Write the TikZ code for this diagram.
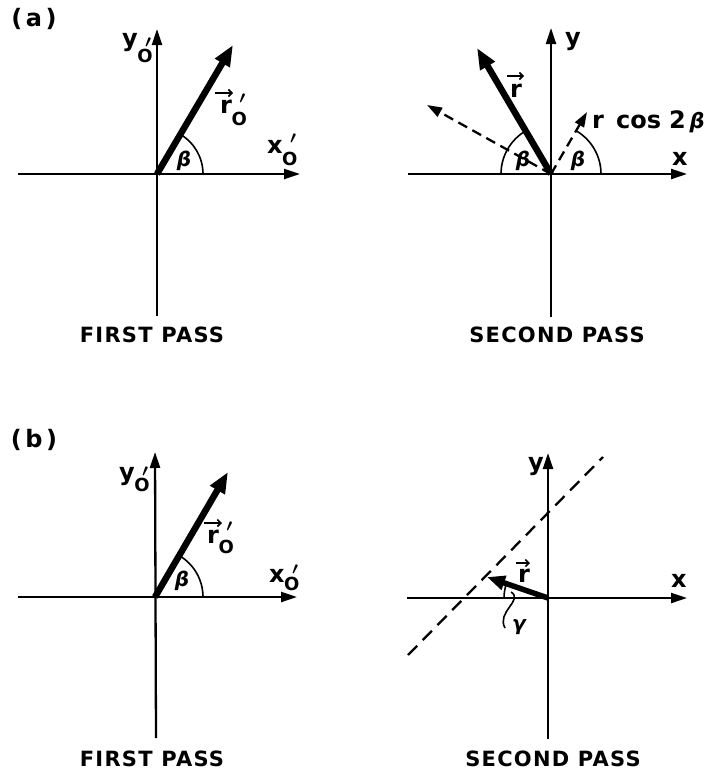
\documentclass[tikz,border=0pt]{standalone}
\usepackage{fontspec}
\setmainfont{DejaVu Sans}
\usetikzlibrary{arrows.meta}
\newcommand\osf{\fontsize{18}{20}\selectfont}
% letter, drop of the O, raise of the prime
\newcommand\po[3]{#1\kern-0.5pt\raisebox{-#2}{\osf O}\llap{\raisebox{#3}{\osf\boldmath$\prime$}\kern1.5pt}}
\newcommand\bet{{\itshape β}}
\begin{document}
\begin{tikzpicture}[x=1pt,y=1pt,
  axis/.style={line width=2.3pt,-{Triangle[length=16pt,width=10pt]}},
  vecline/.style={line width=6.5pt,-{Triangle[length=21pt,width=16pt]}},
  dvec/.style={line width=2.3pt,dash pattern=on 10pt off 6pt,-{Triangle[length=15pt,width=10pt]}},
  dline/.style={line width=2.3pt,dash pattern=on 13pt off 8pt},
  arcline/.style={line width=1.6pt},
  rarrow/.style={line width=1.6pt,-{Straight Barb[length=3.5pt,width=7pt]}},
  lab/.style={font=\fontsize{24}{27}\selectfont\bfseries,inner sep=0pt,anchor=base west},
  grk/.style={font=\fontsize{20}{24}\selectfont\bfseries,inner sep=0pt},
  paren/.style={font=\fontsize{24}{27}\selectfont\bfseries\addfontfeature{LetterSpace=15},inner sep=0pt},
  passlbl/.style={font=\fontsize{21}{24}\selectfont\bfseries\addfontfeature{LetterSpace=6},inner sep=0pt}]
\useasboundingbox (0,-771) rectangle (712,0);
% ---------------- (a) first pass
\coordinate (A) at (157,-174);
\coordinate (Al) at (18,-174); \coordinate (Ar) at (300,-174);
\coordinate (At) at (157,-29); \coordinate (Ab) at (157,-316);
\coordinate (Atip) at (233,-45);
\draw[axis] (Al) -- (Ar);
\draw[axis] (Ab) -- (At);
\draw[vecline] (A) -- (Atip);
\draw[arcline] (A) ++(46,0) arc[start angle=0,end angle=59.5,radius=46];
\node[paren] (la) at (34,-19) {(a)};
\node[lab] (Ax) at (267,-153) {\po{x}{12pt}{10pt}};
\node[lab] (Ay) at (122,-46) {\po{y}{16pt}{-1.5pt}};
\node[lab] (Ar0) at (220,-113) {\po{r}{12pt}{10pt}};
\coordinate (Aa1) at (215,-93); \coordinate (Aa2) at (233,-93);
\draw[rarrow] (Aa1) -- (Aa2);
\node[grk] (Abeta) at (184,-161) {\bet};
\node[passlbl] (Apass) at (152,-335) {FIRST PASS};
% ---------------- (a) second pass
\coordinate (B) at (551,-174);
\coordinate (Bl) at (408,-174); \coordinate (Br) at (687,-174);
\coordinate (Bt) at (551,-28); \coordinate (Bb) at (551,-317);
\coordinate (Btip) at (477,-48);
\coordinate (Bd1) at (427,-105);
\coordinate (Bd2) at (587,-112);
\draw[axis] (Bl) -- (Br);
\draw[axis] (Bb) -- (Bt);
\draw[vecline] (B) -- (Btip);
\draw[dvec] (B) -- (Bd1);
\draw[dvec] (B) -- (Bd2);
\draw[arcline] (B) ++(-50,0) arc[start angle=180,end angle=120,radius=50];
\draw[arcline] (B) ++(50,0) arc[start angle=0,end angle=60,radius=50];
\node[grk] (Bbeta1) at (523,-161) {\bet};
\node[grk] (Bbeta2) at (578,-161) {\bet};
\node[lab] (Br0) at (510,-97) {r};
\coordinate (Ba1) at (507,-76); \coordinate (Ba2) at (524,-76);
\draw[rarrow] (Ba1) -- (Ba2);
\node[lab] (Bcos) at (592,-128) {r\hspace{12pt}cos\hspace{8pt}2\hspace{4pt}{\fontsize{21}{24}\selectfont\bet}};
\node[lab] (By) at (565,-45) {y};
\node[lab] (Bx) at (672,-165) {x};
\node[passlbl] (Bpass) at (557,-335) {SECOND PASS};
% ---------------- (b) first pass
\coordinate (C) at (155,-597);
\coordinate (Cl) at (18,-597); \coordinate (Cr) at (297,-597);
\coordinate (Ct) at (155,-452); \coordinate (Cb) at (156,-738);
\coordinate (Ctip) at (228,-472);
\draw[axis] (Cl) -- (Cr);
\draw[axis] (Cb) -- (Ct);
\draw[vecline] (C) -- (Ctip);
\draw[arcline] (C) ++(48,0) arc[start angle=0,end angle=59.7,radius=48];
\node[paren] (lb) at (34,-440) {(b)};
\node[lab] (Cx) at (269,-582) {\po{x}{8pt}{8pt}};
\node[lab] (Cy) at (119,-480) {\po{y}{11pt}{4pt}};
\node[lab] (Cr0) at (207,-543) {\po{r}{10pt}{12pt}};
\coordinate (Ca1) at (204,-523); \coordinate (Ca2) at (222,-523);
\draw[rarrow] (Ca1) -- (Ca2);
\node[grk] (Cbeta) at (182,-581) {\bet};
\node[passlbl] (Cpass) at (152,-759) {FIRST PASS};
% ---------------- (b) second pass
\coordinate (D) at (548,-598);
\coordinate (Dl) at (407,-598); \coordinate (Dr) at (687,-598);
\coordinate (Dt) at (548,-453); \coordinate (Db) at (548,-739);
\coordinate (Dtip) at (487,-577);
\coordinate (Dd1) at (408,-655); \coordinate (Dd2) at (603,-457);
\draw[axis] (Dl) -- (Dr);
\draw[axis] (Db) -- (Dt);
\draw[dline] (Dd1) -- (Dd2);
\draw[line width=5.5pt,-{Triangle[length=18pt,width=14pt]}] (D) -- (Dtip);
\draw[arcline] (D) ++(-44,0) arc[start angle=180,end angle=161,radius=44];
\coordinate (Dg1) at (511,-592); \coordinate (Dg2) at (505,-628);
\draw[arcline] (Dg1) .. controls (524,-600) and (496,-612) .. (Dg2);
\node[grk] (Dgamma) at (519,-627) {\itshape γ};
\node[lab] (Dr0) at (518,-582) {r};
\coordinate (Da1) at (516,-563); \coordinate (Da2) at (530,-563);
\draw[rarrow] (Da1) -- (Da2);
\node[lab] (Dy) at (528,-470) {y};
\node[lab] (Dx) at (671,-587) {x};
\node[passlbl] (Dpass) at (553,-759) {SECOND PASS};
\end{tikzpicture}
\end{document}
